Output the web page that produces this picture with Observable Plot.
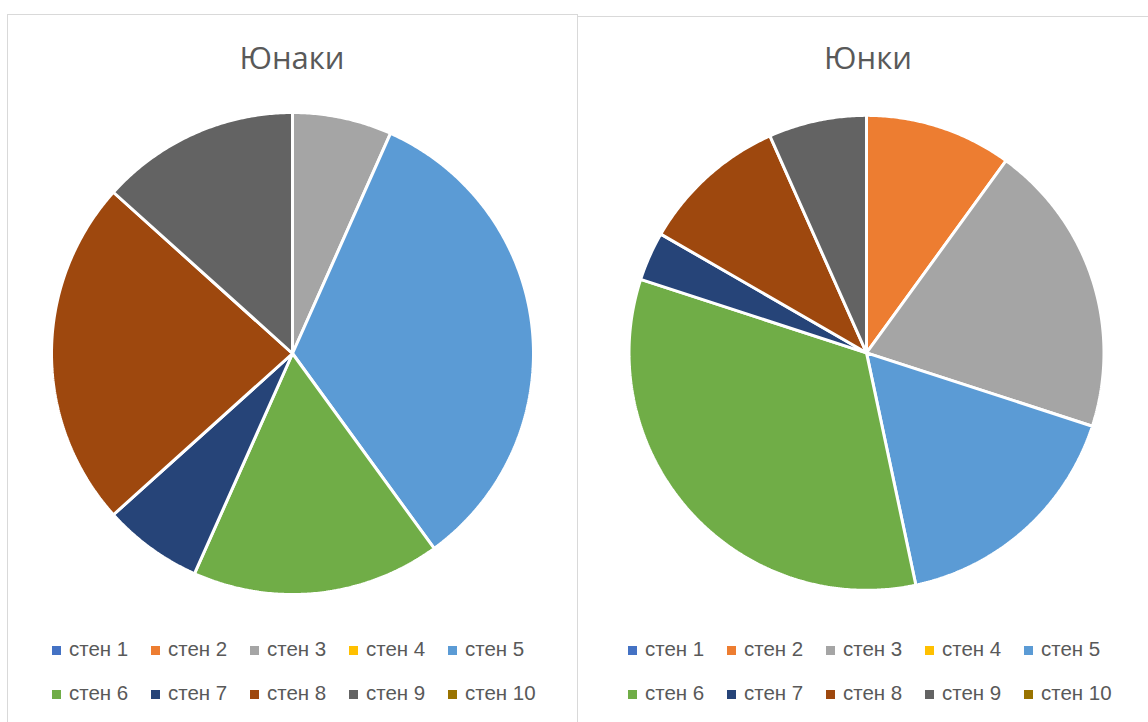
<!DOCTYPE html>
<html>
<head>
<meta charset="utf-8">
<script src="https://cdn.jsdelivr.net/npm/d3@7"></script>
<script src="https://cdn.jsdelivr.net/npm/@observablehq/plot@0.6"></script>
<style>
  html, body { margin: 0; padding: 0; background: #fff; overflow: hidden; }
  body { width: 1148px; height: 722px; position: relative; }
  .panel { position: absolute; border: 1px solid #d9d9d9; box-sizing: border-box; background: transparent; }
  .title { position: absolute; font-family: "Open Sans", sans-serif; font-size: 31px; color: #595959; text-align: center; width: 400px; line-height: 1; }
  .pie { position: absolute; }
  .leg { position: absolute; font-family: "Liberation Sans", Arial, sans-serif; font-size: 20.5px; color: #595959; white-space: nowrap; line-height: 1; }
  .sw { position: absolute; width: 9px; height: 9px; }
</style>
</head>
<body>
<div class="panel" style="left:7px; top:14px; width:571px; height:760px;"></div>
<div class="panel" style="left:577px; top:16px; width:600px; height:760px;"></div>
<script>
const categories = ["стен 1","стен 2","стен 3","стен 4","стен 5","стен 6","стен 7","стен 8","стен 9","стен 10"];
const palette = ["#4472C4","#ED7D31","#A5A5A5","#FFC000","#5B9BD5","#70AD47","#264478","#9E480E","#636363","#997300"];
const titles = ["Юнаки","Юнки"];
const yunaki = [0,0,2,0,10,5,2,7,4,0];
const yunki  = [0,3,6,0,5,10,1,3,2,0];

const charts = [
  {title: titles[0], values: yunaki, cx: 292, cy: 353, r: 241, tx: 292},
  {title: titles[1], values: yunki,  cx: 869, cy: 355, r: 240, tx: 868}
];

const W = 570, H = 506;

charts.forEach((c, ci) => {
  const data = categories.map((k, i) => ({key: k, value: c.values[i]}));
  const arcs = d3.pie().sort(null).value(d => d.value)(data);
  const pts = [];
  arcs.forEach(a => {
    if (a.data.value <= 0) return;
    pts.push({key: a.data.key, x: 0, y: 0});
    const n = Math.max(2, Math.ceil((a.endAngle - a.startAngle) / (Math.PI / 360)));
    for (let j = 0; j <= n; j++) {
      const t = a.startAngle + (a.endAngle - a.startAngle) * j / n;
      pts.push({key: a.data.key, x: c.r * Math.sin(t), y: c.r * Math.cos(t)});
    }
    pts.push({key: a.data.key, x: 0, y: 0});
  });

  const svg = Plot.plot({
    width: W, height: H,
    margin: 0,
    style: {background: "transparent", overflow: "visible"},
    x: {domain: [-W/2, W/2], axis: null},
    y: {domain: [-H/2, H/2], axis: null},
    color: {domain: categories, range: palette},
    marks: [
      Plot.line(pts, {x: "x", y: "y", z: "key", fill: "key", stroke: "white", strokeWidth: 3, strokeLinejoin: "miter", curve: "linear"})
    ]
  });
  const holder = document.createElement("div");
  holder.className = "pie";
  holder.style.left = (c.cx - W/2) + "px";
  holder.style.top = (c.cy - H/2) + "px";
  holder.appendChild(svg);
  document.body.appendChild(holder);

  const t = document.createElement("div");
  t.className = "title";
  t.textContent = c.title;
  t.style.left = (c.tx - 200) + "px";
  t.style.top = "42px";
  document.body.appendChild(t);

  // legend
  const x0 = ci === 0 ? 52 : 628;
  const step = 99;
  categories.forEach((k, i) => {
    const row = Math.floor(i / 5), col = i % 5;
    const sx = x0 + col * step;
    const sy = row === 0 ? 646 : 690;
    const sw = document.createElement("div");
    sw.className = "sw";
    sw.style.left = sx + "px";
    sw.style.top = sy + "px";
    sw.style.background = palette[i];
    document.body.appendChild(sw);
    const lab = document.createElement("div");
    lab.className = "leg";
    lab.textContent = k;
    lab.style.left = (sx + 17) + "px";
    lab.style.top = (sy - 7) + "px";
    document.body.appendChild(lab);
  });
});
</script>
</body>
</html>
